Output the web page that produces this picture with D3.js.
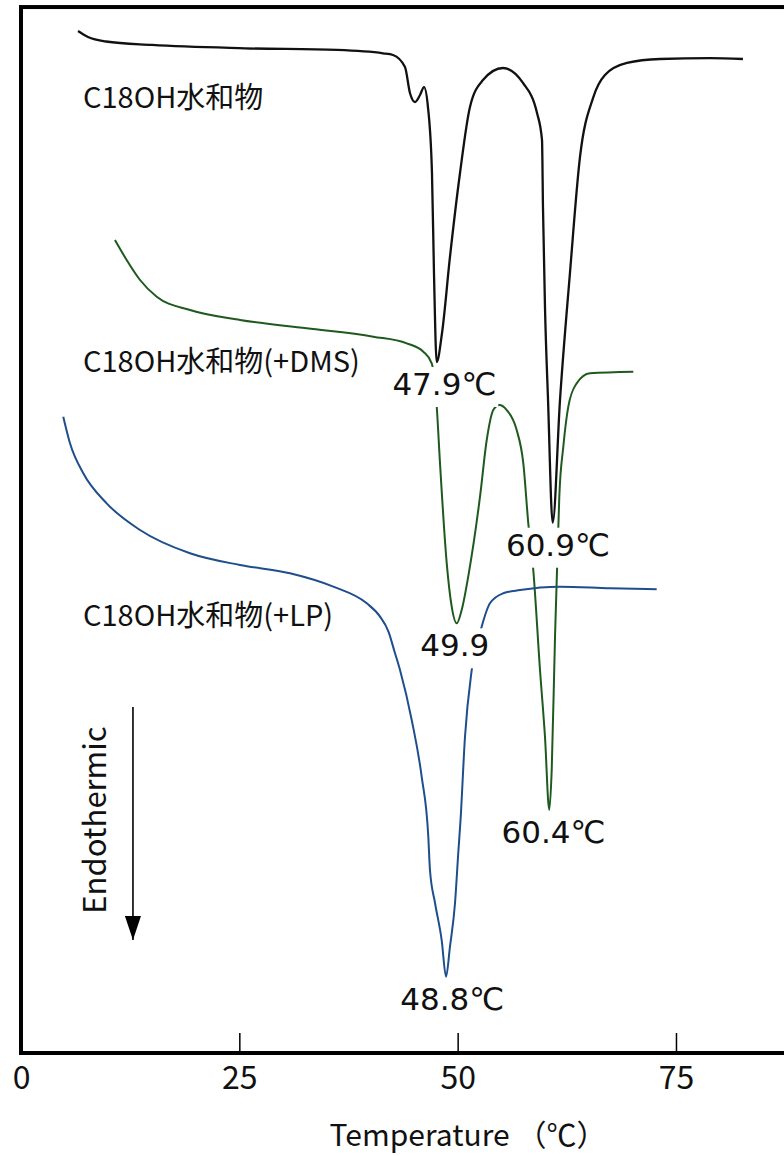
<!DOCTYPE html>
<meta charset="utf-8">
<style>
body { margin: 0; background: #fff; }
svg { display: block; }
</style>
<body>
<script src="https://cdn.jsdelivr.net/npm/d3@7/dist/d3.min.js"></script>
<script>

// DSC traces: temperature (℃) vs heat flow (arb. units, endotherm down)
var plainT  = [6.53, 7.67, 9.73, 15.00, 25.65, 36.18, 41.45, 42.60, 43.97, 44.54, 45.12, 45.69, 46.15, 46.60,
               47.06, 47.29, 47.60, 48.21, 49.12, 50.27, 51.41, 52.90, 55.19, 57.48, 59.09, 59.66, 59.77, 60.00,
               60.35, 60.88, 61.72, 62.86, 64.01, 65.50, 66.87, 69.39, 73.17, 78.90, 82.67];
var plainHF = [97.61, 97.04, 96.61, 96.28, 95.96, 95.80, 95.48, 95.32, 94.17, 91.69, 90.83, 91.50, 92.26, 90.35,
               84.05, 74.50, 66.00, 68.77, 76.03, 84.05, 90.35, 92.93, 94.08, 92.65, 89.78, 87.20, 80.80, 71.25,
               62.37, 50.65, 62.37, 74.50, 85.58, 91.21, 93.41, 94.56, 94.94, 95.03, 94.94];

var dmsT  = [10.76, 12.10, 13.63, 15.54, 19.35, 25.08, 32.71, 40.34, 44.17, 46.07, 47.03, 47.60, 47.98, 48.75,
             49.32, 49.89, 50.46, 51.30, 52.56, 53.33, 54.08, 54.77, 55.62, 56.76, 57.52, 58.09, 58.66, 59.43,
             60.00, 60.49, 60.77, 61.15, 61.38, 61.64, 62.10, 62.67, 63.63, 65.15, 70.11];
var dmsHF = [77.65, 75.74, 73.83, 72.23, 70.96, 70.01, 69.22, 68.42, 67.78, 66.98, 65.87, 61.80, 56.32, 46.77,
             42.63, 41.04, 42.31, 45.94, 53.13, 58.55, 61.41, 61.89, 61.41, 59.50, 56.32, 50.59, 46.13, 36.58,
             30.21, 23.21, 27.03, 39.76, 46.13, 53.13, 57.91, 61.73, 63.96, 64.92, 65.07];

var lpT  = [4.84, 5.61, 7.13, 9.81, 13.63, 19.35, 25.08, 30.80, 35.76, 39.59, 41.05, 42.10, 42.75, 43.40, 44.74,
            45.88, 46.64, 46.83, 47.41, 48.17, 48.67, 49.12, 49.70, 50.07, 50.33, 50.84, 51.61, 52.75, 53.70,
            55.23, 57.14, 61.72, 67.45, 72.79];
var lpHF = [60.77, 58.23, 55.37, 52.50, 49.95, 47.73, 46.61, 45.82, 44.54, 42.95, 41.75, 40.20, 38.40, 36.58, 31.81,
            26.39, 20.66, 17.48, 14.33, 10.79, 7.29, 10.15, 14.33, 19.10, 22.25, 30.21, 36.58, 40.72, 42.95,
            43.91, 44.22, 44.54, 44.38, 44.29];

var seriesNames  = ["C18OH水和物", "C18OH水和物(+DMS)", "C18OH水和物(+LP)"];
var seriesColors = ["#111111", "#1e5a1e", "#1f4e8c"];

// peak annotations
var peakText   = ["47.9℃", "60.9℃", "49.9", "60.4℃", "48.8℃"];
var peakTemp   = [47.9, 60.9, 49.9, 60.4, 48.8];
var peakSeries = [0, 0, 1, 1, 2];

var xTicks = [0, 25, 50, 75];

var width = 784, height = 1156;

var x = d3.scaleLinear().domain([0, 90]).range([21, 21 + 90 * 8.733]);
var y = d3.scaleLinear().domain([0, 100]).range([1053, 6]);

var series = [[plainT, plainHF], [dmsT, dmsHF], [lpT, lpHF]].map(function(s) {
  return s[0].map(function(t, i) { return {t: t, v: s[1][i]}; });
});

var svg = d3.select("body").append("svg")
    .attr("width", width)
    .attr("height", height);

var line = d3.line()
    .x(function(d) { return x(d.t); })
    .y(function(d) { return y(d.v); })
    .curve(d3.curveMonotoneX);

svg.selectAll("path.trace")
    .data(series)
  .enter().append("path")
    .attr("class", "trace")
    .attr("fill", "none")
    .attr("stroke", function(d, i) { return seriesColors[i]; })
    .attr("stroke-width", function(d, i) { return i ? 2 : 2.3; })
    .attr("stroke-linejoin", "round")
    .attr("d", line);

// series names
var nameFont = "'Noto Sans CJK JP', 'Noto Sans', sans-serif";
var nameY = [90.3, 65.0, 40.8];
svg.selectAll("text.name")
    .data(seriesNames)
  .enter().append("text")
    .attr("class", "name")
    .attr("x", x(7.1))
    .attr("y", function(d, i) { return y(nameY[i]); })
    .style("font-family", nameFont)
    .style("font-size", "29px")
    .attr("fill", "#111")
    .text(function(d) { return d; });

// peak labels, knocked out of the traces with a white box
var peaks = svg.append("g");
peakText.forEach(function(txt, i) {
  var pts = series[peakSeries[i]].filter(function(d) { return Math.abs(d.t - peakTemp[i]) < 1.5; });
  var low = d3.least(pts, function(d) { return d.v; });
  var g = peaks.append("g");
  var hasUnit = txt.indexOf("℃") >= 0;
  var t = g.append("text")
      .attr("x", x(peakTemp[i]) + (hasUnit ? 5 : -2))
      .attr("y", y(low.v) + 33)
      .attr("text-anchor", "middle")
      .style("font-family", "'DejaVu Sans', sans-serif")
      .style("font-size", "31px")
      .attr("fill", "#111")
      .text(txt);
  var b = t.node().getBBox();
  g.insert("rect", "text")
      .attr("x", b.x - 2)
      .attr("y", b.y + 1)
      .attr("width", b.width + 4)
      .attr("height", b.height + 4)
      .attr("fill", "#fff");
});

// frame
svg.append("rect")
    .attr("x", x(0))
    .attr("y", y(99.9))
    .attr("width", x(90) - x(0))
    .attr("height", y(0) - y(99.9))
    .attr("fill", "none")
    .attr("stroke", "#000")
    .attr("stroke-width", 4);

var xAxis = svg.append("g")
    .attr("transform", "translate(0," + y(0) + ")")
    .call(d3.axisBottom(x).tickValues(xTicks).tickSizeInner(-20).tickSizeOuter(0).tickPadding(13));
xAxis.select(".domain").remove();
xAxis.selectAll(".tick line").attr("stroke", "#000").attr("stroke-width", 1.5);
xAxis.selectAll(".tick text")
    .style("font-family", nameFont)
    .style("font-size", "32px")
    .attr("fill", "#111");

svg.append("text")
    .attr("x", 468)
    .attr("y", 1146)
    .attr("text-anchor", "middle")
    .style("font-family", nameFont)
    .style("font-size", "30px")
    .attr("fill", "#111")
    .text("Temperature （℃）");

// endothermic arrow
svg.append("defs").append("marker")
    .attr("id", "head")
    .attr("viewBox", "0 0 24 16")
    .attr("refX", 24)
    .attr("refY", 8)
    .attr("markerWidth", 24)
    .attr("markerHeight", 16)
    .attr("markerUnits", "userSpaceOnUse")
    .attr("orient", "auto")
  .append("path")
    .attr("d", "M0,0L24,8L0,16Z")
    .attr("fill", "#000");

svg.append("line")
    .attr("x1", x(12.82)).attr("x2", x(12.82))
    .attr("y1", y(33.05)).attr("y2", y(10.79))
    .attr("stroke", "#000")
    .attr("stroke-width", 1.6)
    .attr("marker-end", "url(#head)");

svg.append("text")
    .attr("transform", "translate(" + x(9.73) + "," + y(22.25) + ") rotate(-90)")
    .attr("text-anchor", "middle")
    .style("font-family", nameFont)
    .style("font-size", "31px")
    .attr("fill", "#111")
    .text("Endothermic");

</script>
